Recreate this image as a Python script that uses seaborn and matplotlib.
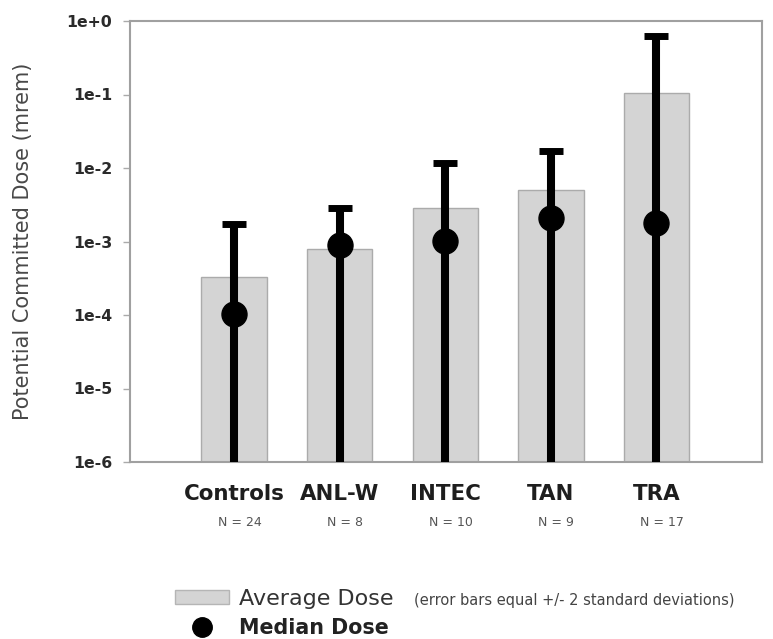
import matplotlib
matplotlib.use("Agg")
import matplotlib.pyplot as plt
import seaborn as sns
import pandas as pd
import numpy as np
from matplotlib.patches import Patch
from matplotlib.lines import Line2D
from matplotlib.ticker import FixedLocator, FixedFormatter, NullLocator

# ---- data ----
sites = ["Controls", "ANL-W", "INTEC", "TAN", "TRA"]
n_labels = ["N = 24", "N = 8", "N = 10", "N = 9", "N = 17"]
avg_dose = [3.26e-4, 7.8e-4, 2.83e-3, 5.0e-3, 0.104]
upper_2sd = [1.71e-3, 2.83e-3, 1.17e-2, 1.72e-2, 0.63]   # average + 2 SD
median_dose = [1.03e-4, 8.96e-4, 1.02e-3, 2.07e-3, 1.8e-3]
ytick_vals = [1e-6, 1e-5, 1e-4, 1e-3, 1e-2, 1e-1, 1e0]
ytick_labels = ["1e-6", "1e-5", "1e-4", "1e-3", "1e-2", "1e-1", "1e+0"]

df = pd.DataFrame({"site": sites, "avg": avg_dose, "upper": upper_2sd,
                   "median": median_dose})
df["err"] = df["upper"] - df["avg"]

sns.set_theme(style="white")
plt.rcParams["font.family"] = ["DejaVu Sans"]

fig = plt.figure(figsize=(7.73, 6.39), dpi=100)
ax = fig.add_axes([130/773, 1-462/639, (762-130)/773, (462-21)/639])

ax.set_yscale("log")
sns.barplot(data=df, x="site", y="avg", color="#d4d4d4", edgecolor="#ababab",
            linewidth=1.0, width=0.62, saturation=1, ax=ax, errorbar=None)

xpos = np.arange(len(sites))
ax.errorbar(xpos, df["avg"], yerr=df["err"], fmt="none", ecolor="black",
            elinewidth=5.8, capsize=8.3, capthick=5, zorder=3)
ax.plot(xpos, df["median"], "o", color="black", markersize=18, zorder=4,
        linestyle="none")

ax.set_xlim(-0.986, 5.0)
ax.set_ylim(1e-6, 1e0)
ax.yaxis.set_major_locator(FixedLocator(ytick_vals))
ax.yaxis.set_major_formatter(FixedFormatter(ytick_labels))
ax.yaxis.set_minor_locator(NullLocator())
ax.tick_params(axis="y", which="major", length=5, width=1, color="#aaaaaa",
               direction="out", left=True, pad=8, labelsize=11.3,
               labelcolor="#2a2a2a")
for t in ax.get_yticklabels():
    t.set_fontweight("bold")
ax.tick_params(axis="x", length=0, pad=16, labelsize=15.4, labelcolor="#1e1e1e")
for t in ax.get_xticklabels():
    t.set_fontweight("bold")
ax.set_xlabel("")
ax.set_ylabel("Potential Committed Dose (mrem)", fontsize=15, color="#484848",
              labelpad=24)

for s in ax.spines.values():
    s.set_color("#a0a0a0")
    s.set_linewidth(1.5)

trans = ax.get_xaxis_transform()
for x, lab in zip(xpos, n_labels):
    ax.text(x + 0.05, -0.137, lab, transform=trans, ha="center", va="center",
            fontsize=9, color="#555555")

handles = [Patch(facecolor="#d4d4d4", edgecolor="#b5b5b5", linewidth=1.0),
           Line2D([], [], marker="o", color="black", linestyle="none",
                  markersize=14)]
leg = fig.legend(handles=handles, labels=["Average Dose", "Median Dose"],
                 loc="upper left", bbox_to_anchor=(175/773, 1-589/639),
                 frameon=False, fontsize=16, handlelength=2.45,
                 handleheight=0.55, handletextpad=0.45, labelspacing=0.4,
                 borderpad=0, borderaxespad=0)
texts = leg.get_texts()
texts[0].set_color("#333333")
texts[1].set_fontsize(14.9)
texts[1].set_fontweight("bold")
texts[1].set_color("#222222")

fig.text(414/773, 1-601/639, "(error bars equal +/- 2 standard deviations)",
         fontsize=10.5, color="#444444", va="center", ha="left")

fig.savefig("out.png", dpi=100, facecolor="white")
